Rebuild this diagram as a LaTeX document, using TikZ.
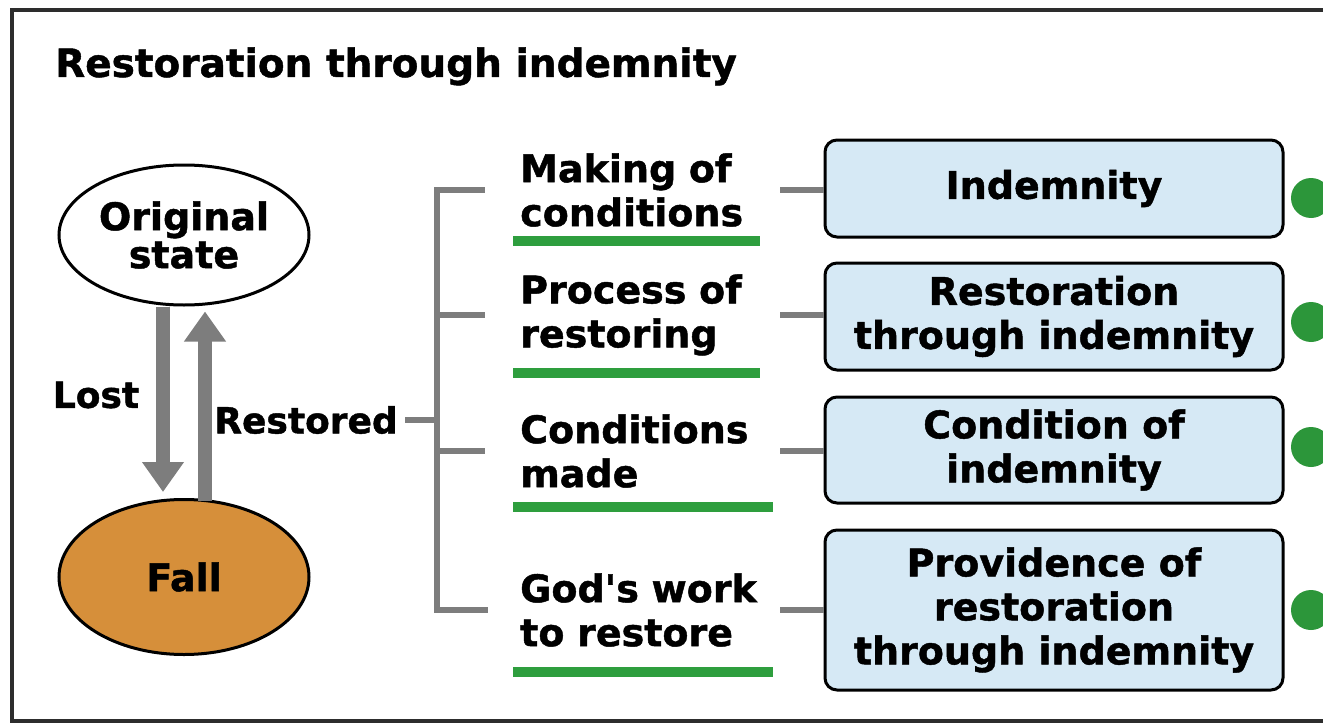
\documentclass[tikz,border=0pt]{standalone}
\usepackage{fontspec}
\setmainfont{DejaVu Sans}[BoldFeatures={FakeBold=1.2}]
\usetikzlibrary{arrows.meta,shapes.geometric}
\definecolor{fallorange}{RGB}{214,143,58}
\definecolor{boxblue}{RGB}{214,233,245}
\definecolor{ugreen}{RGB}{46,158,62}
\definecolor{dgreen}{RGB}{44,150,58}
\definecolor{lgray}{RGB}{125,125,125}
\definecolor{framegray}{RGB}{45,45,45}
\begin{document}
\begin{tikzpicture}[x=1pt,y=-1pt,
  txt/.style={font=\bfseries\fontsize{38}{44}\selectfont, inner sep=0pt},
  lab/.style={txt, align=left, text width=255pt, anchor=west},
  bx/.style={txt, draw=black, line width=3pt, rounded corners=12pt, fill=boxblue,
    minimum width=458pt, align=center},
  ell/.style={ellipse, draw=black, line width=3pt, minimum width=250pt, inner sep=0pt,
    align=center, font=\bfseries\fontsize{38}{44}\selectfont},
  bigarrow/.style={draw=lgray, line width=14pt, -{Triangle[width=40pt,length=30pt]}},
  conn/.style={draw=lgray, line width=6pt},
  dot/.style={circle, fill=dgreen, minimum size=40pt, inner sep=0pt},
  uline/.style={fill=ugreen}]
\useasboundingbox (0,0) rectangle (1323,725);
\clip (0,0) rectangle (1323,725);
% frame
\draw[framegray, line width=4pt] (12,10) rectangle (1345,721);
% title
\node[anchor=base west, inner sep=0pt, font=\bfseries\fontsize{39}{44}\selectfont] (title) at (55,77) {Restoration through indemnity};
% ellipses
\node[ell, fill=white, minimum height=140pt] (orig) at (184,235) {Original\\[-6pt]state};
\node[ell, fill=fallorange, minimum height=155pt] (fall) at (184,577) {Fall};
% arrows
\draw[bigarrow] ([xshift=-21pt]orig.south) -- ([xshift=-21pt,yshift=6pt]fall.north);
\draw[bigarrow] ([xshift=21pt,yshift=-3pt]fall.north) -- ([xshift=21pt,yshift=-5pt]orig.south);
\node[txt, font=\bfseries\fontsize{36}{44}\selectfont] (lost) at (96,395) {Lost};
\node[txt, font=\bfseries\fontsize{36}{44}\selectfont, anchor=east] (restored) at (398,420) {Restored};
% labels
\node[lab] (l1) at (520,190) {Making of\\conditions};
\node[lab] (l2) at (520,315) {Process of\\restoring};
\node[lab] (l3) at (520,451) {Conditions\\made};
\node[lab] (l4) at (520,610) {God\textquotesingle s work\\to restore};
% underlines
\fill[uline] (513,236) rectangle (760,246);
\fill[uline] (513,368) rectangle (760,378);
\fill[uline] (513,502) rectangle (773,512);
\fill[uline] (513,667) rectangle (773,677);
% bracket
\coordinate (br) at (437,420);
\draw[conn] (l1.west -| br) -- ([xshift=-35pt]l1.west);
\draw[conn] (l2.west -| br) -- ([xshift=-35pt]l2.west);
\draw[conn] (l3.west -| br) -- ([xshift=-35pt]l3.west);
\draw[conn, line cap=rect] (l1.west -| br) -- (l4.west -| br) -- ([xshift=-35pt]l4.west);
\draw[conn] ([xshift=7pt]restored.east) -- (br);
% boxes
\node[bx, minimum height=97pt] (b1) at (1054,188.5) {Indemnity};
\node[bx, minimum height=107pt] (b2) at (1054,316.5) {Restoration\\through indemnity};
\node[bx, minimum height=106pt] (b3) at (1054,450) {Condition of\\indemnity};
\node[bx, minimum height=160pt] (b4) at (1054,610) {Providence of\\restoration\\through indemnity};
% connectors
\draw[conn] ([xshift=5pt]l1.east) -- (l1.east -| b1.west);
\draw[conn] ([xshift=5pt]l2.east) -- (l2.east -| b2.west);
\draw[conn] ([xshift=5pt]l3.east) -- (l3.east -| b3.west);
\draw[conn] ([xshift=5pt]l4.east) -- (l4.east -| b4.west);
% dots
\node[dot] (d1) at (1311,198) {};
\node[dot] (d2) at (1311,322) {};
\node[dot] (d3) at (1311,447) {};
\node[dot] (d4) at (1311,610) {};
\end{tikzpicture}
\end{document}
